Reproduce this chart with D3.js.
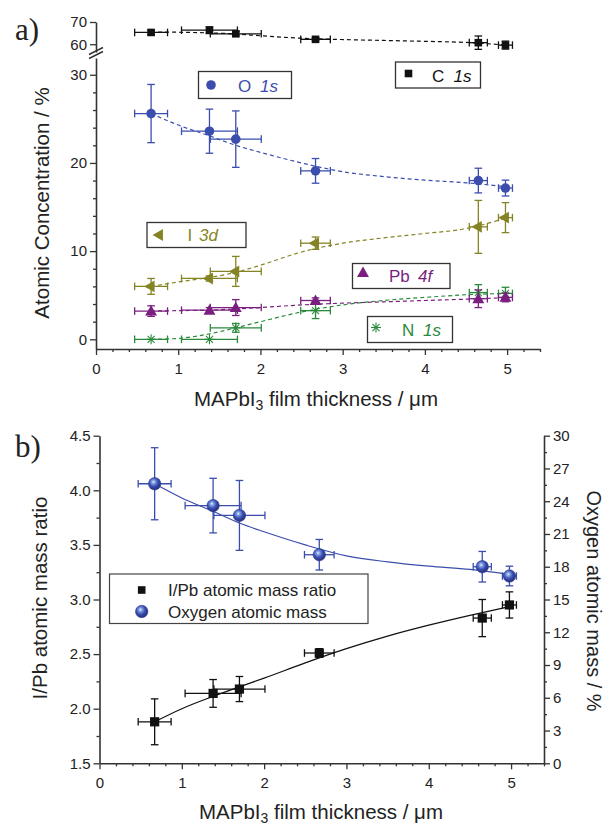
<!DOCTYPE html>
<html>
<head>
<meta charset="utf-8">
<script src="https://cdn.jsdelivr.net/npm/d3@7"></script>
<style>
  body { margin: 0; background: #fff; }
  svg { display: block; }
  text { font-family: "Liberation Sans", Arial, sans-serif; fill: #222; }
</style>
</head>
<body>
<svg id="chart" width="606" height="828"></svg>
<script>
// ---- data: film thickness (µm) and its uncertainty ----
const thickness    = [0.67, 1.38, 1.70, 2.67, 4.65, 4.98];
const thicknessErr = [0.20, 0.34, 0.31, 0.18, 0.11, 0.085];

// atomic concentrations (%) with errors
const carbon      = [65.3, 66.3, 64.7, 62.2, 60.7, 59.6];
const carbonErr   = [1.0, 1.5, 1.0, 0.7, 3.0, 1.8];
const oxygen      = [25.6, 23.6, 22.7, 19.1, 18.0, 17.15];
const oxygenErr   = [3.3, 2.5, 3.2, 1.4, 1.4, 0.9];
const iodine      = [6.0, 6.9, 7.7, 10.9, 12.75, 13.8];
const iodineErr   = [0.9, 0.3, 1.7, 0.7, 3.0, 1.7];
const lead        = [3.2, 3.3, 3.6, 4.4, 4.6, 4.75];
const leadErr     = [0.6, 0.3, 0.9, 0.3, 1.0, 0.5];
const nitrogen    = [0.0, 0.0, 1.3, 3.25, 5.3, 5.2];
const nitrogenErr = [0.0, 0.0, 0.5, 0.9, 0.9, 0.7];

// I/Pb atomic mass ratio
const ratio    = [1.88, 2.14, 2.18, 2.51, 2.83, 2.95];
const ratioErr = [0.21, 0.127, 0.115, 0.04, 0.17, 0.12];

// fitted trend curves sampled along the thickness axis
const fitX        = [0.67, 1.0, 1.37, 1.7, 2.0, 2.5, 3.0, 3.5, 4.0, 4.5, 4.98];
const carbonFit   = [65.5, 65.4, 65.1, 64.6, 63.8, 62.7, 62.1, 61.7, 61.3, 60.8, 59.6];
const oxygenFit   = [25.6, 24.3, 23.1, 22.0, 21.2, 20.0, 19.0, 18.45, 18.05, 17.75, 17.3];
const iodineFit   = [6.0, 6.5, 7.0, 7.6, 8.4, 9.9, 10.9, 11.5, 12.0, 12.55, 13.75];
const leadFit     = [3.2, 3.25, 3.3, 3.45, 3.6, 3.9, 4.1, 4.25, 4.4, 4.55, 4.72];
const nitrogenFit = [0.0, 0.1, 0.6, 1.3, 2.0, 3.1, 3.9, 4.4, 4.75, 5.05, 5.2];
const ratioFit    = [1.88, 2.0, 2.11, 2.2, 2.28, 2.42, 2.55, 2.665, 2.765, 2.855, 2.935];

// axis ticks
const xTicks      = [0, 1, 2, 3, 4, 5];
const yLowTicks   = [0, 10, 20, 30];
const yUpTicks    = [60, 70];
const yRatioTicks = [1.5, 2.0, 2.5, 3.0, 3.5, 4.0, 4.5];
const yOxTicks    = [0, 3, 6, 9, 12, 15, 18, 21, 24, 27, 30];

// ---- colours ----
const BLUE = "#3b4ead", OLIVE = "#858424", PURPLE = "#7a1f80", GREEN = "#2a8a3c", BLACK = "#111";
const AXIS = "#333";

const svg = d3.select("#chart");
const defs = svg.append("defs");
const grad = defs.append("radialGradient").attr("id", "sphere")
  .attr("cx", "42%").attr("cy", "38%").attr("r", "60%").attr("fx", "40%").attr("fy", "35%");
grad.append("stop").attr("offset", "0%").attr("stop-color", "#d8f2ff");
grad.append("stop").attr("offset", "25%").attr("stop-color", "#7d9be0");
grad.append("stop").attr("offset", "60%").attr("stop-color", "#3a4db0");
grad.append("stop").attr("offset", "100%").attr("stop-color", "#26307c");

// ---- scales ----
const xA    = d3.scaleLinear().domain([0, 5.4]).range([96, 540]);
const yLow  = d3.scaleLinear().domain([-1.1, 31.9]).range([349, 58]);
const yUp   = d3.scaleLinear().domain([56.5, 70]).range([52, 22]);
const xB    = d3.scaleLinear().domain([0, 5.4]).range([99.5, 544]);
const yB    = d3.scaleLinear().domain([1.5, 4.5]).range([763.3, 435.7]);
const yBR   = d3.scaleLinear().domain([0, 30]).range([763.3, 435.7]);

// ---- helpers ----
function styleAxis(g) {
  g.selectAll(".domain").attr("stroke", AXIS).attr("stroke-width", 1.6);
  g.selectAll(".tick line").attr("stroke", AXIS).attr("stroke-width", 1.3);
  g.selectAll(".tick text").attr("font-size", 15).attr("fill", "#222")
    .attr("font-family", "'Liberation Sans', Arial, sans-serif");
}
function minorRange(a, b, step, majors) {
  const out = [];
  for (let v = a; v <= b + 1e-9; v += step) {
    const r = Math.round(v * 1000) / 1000;
    if (!majors.some(m => Math.abs(m - r) < 1e-6)) out.push(r);
  }
  return out;
}
// makeAxis: () => new axis generator bound to a scale
function drawAxis(makeAxis, transform, majors, minors, fmt) {
  const gm = svg.append("g").attr("transform", transform)
    .call(makeAxis().tickValues(minors).tickSize(3).tickFormat(""));
  gm.select(".domain").remove();
  styleAxis(gm);
  const g = svg.append("g").attr("transform", transform)
    .call(makeAxis().tickValues(majors).tickSizeOuter(0).tickFormat(fmt));
  styleAxis(g);
  return g;
}

function marker(g, type, x, y, color) {
  if (type === "square") {
    g.append("rect").attr("x", x - 3.8).attr("y", y - 3.8).attr("width", 7.6).attr("height", 7.6).attr("fill", color);
  } else if (type === "bigsquare") {
    g.append("rect").attr("x", x - 4.6).attr("y", y - 4.6).attr("width", 9.2).attr("height", 9.2).attr("fill", color);
  } else if (type === "circle") {
    g.append("circle").attr("cx", x).attr("cy", y).attr("r", 4.8).attr("fill", color);
  } else if (type === "triLeft") {
    g.append("path").attr("d", d3.symbol(d3.symbolTriangle, 62)())
      .attr("transform", `translate(${x},${y}) rotate(-90)`).attr("fill", color);
  } else if (type === "triUp") {
    g.append("path").attr("d", d3.symbol(d3.symbolTriangle, 62)())
      .attr("transform", `translate(${x},${y + 1})`).attr("fill", color);
  } else if (type === "star") {
    const r = 5;
    [0, 45, 90, 135].forEach(a => {
      const c = Math.cos(a * Math.PI / 180) * r, s = Math.sin(a * Math.PI / 180) * r;
      g.append("line").attr("x1", x - c).attr("y1", y - s).attr("x2", x + c).attr("y2", y + s)
        .attr("stroke", color).attr("stroke-width", 1.1);
    });
  } else if (type === "sphere") {
    g.append("circle").attr("cx", x).attr("cy", y).attr("r", 6.2)
      .attr("fill", "url(#sphere)").attr("stroke", "#2c3a90").attr("stroke-width", 0.6);
  }
}

function errorBars(g, xs, ys, xe, ye, xs_, ys_, color) {
  const cap = 3.8;
  xs.forEach((xv, i) => {
    const cx = xs_(xv), cy = ys_(ys[i]);
    const x0 = xs_(xv - xe[i]), x1 = xs_(xv + xe[i]);
    g.append("line").attr("x1", x0).attr("x2", x1).attr("y1", cy).attr("y2", cy)
      .attr("stroke", color).attr("stroke-width", 1.3);
    [x0, x1].forEach(xx => g.append("line").attr("x1", xx).attr("x2", xx)
      .attr("y1", cy - cap).attr("y2", cy + cap).attr("stroke", color).attr("stroke-width", 1.3));
    if (ye[i] > 0) {
      const y0 = ys_(ys[i] - ye[i]), y1 = ys_(ys[i] + ye[i]);
      g.append("line").attr("x1", cx).attr("x2", cx).attr("y1", y0).attr("y2", y1)
        .attr("stroke", color).attr("stroke-width", 1.3);
      [y0, y1].forEach(yy => g.append("line").attr("x1", cx - cap).attr("x2", cx + cap)
        .attr("y1", yy).attr("y2", yy).attr("stroke", color).attr("stroke-width", 1.3));
    }
  });
}

function fitLine(g, vals, xs_, ys_, color, dashed) {
  const pts = fitX.map((x, i) => [x, vals[i]]);
  g.append("path").datum(pts)
    .attr("d", d3.line().x(d => xs_(d[0])).y(d => ys_(d[1])).curve(d3.curveMonotoneX))
    .attr("fill", "none").attr("stroke", color).attr("stroke-width", 1.2)
    .attr("stroke-dasharray", dashed ? "4,3" : null);
}

// =================== panel a ===================
const xMinor = minorRange(0, 5.4, 0.2, xTicks);
drawAxis(() => d3.axisBottom(xA), "translate(0,349)", xTicks, xMinor, d3.format("d"))
  .selectAll(".tick text").attr("dy", "1.05em");
drawAxis(() => d3.axisLeft(yLow), "translate(96,0)", yLowTicks, minorRange(0, 30, 2, yLowTicks), d3.format("d"));
drawAxis(() => d3.axisLeft(yUp), "translate(96,0)", yUpTicks, [], d3.format("d"));

// axis break marks
[[0, 0], [0, -4]].forEach(([dx, dy]) => {
  svg.append("line").attr("x1", 89 + dx).attr("y1", 58.5 + dy).attr("x2", 103 + dx).attr("y2", 51.5 + dy)
    .attr("stroke", AXIS).attr("stroke-width", 1.4);
});

const seriesA = [
  { vals: carbon,   err: carbonErr,   fit: carbonFit,   color: BLACK,  mark: "square",  y: yUp },
  { vals: oxygen,   err: oxygenErr,   fit: oxygenFit,   color: BLUE,   mark: "circle",  y: yLow },
  { vals: iodine,   err: iodineErr,   fit: iodineFit,   color: OLIVE,  mark: "triLeft", y: yLow },
  { vals: nitrogen, err: nitrogenErr, fit: nitrogenFit, color: GREEN,  mark: "star",    y: yLow },
  { vals: lead,     err: leadErr,     fit: leadFit,     color: PURPLE, mark: "triUp",   y: yLow }
];
const gA = svg.append("g");
seriesA.forEach(s => fitLine(gA, s.fit, xA, s.y, s.color, true));
seriesA.forEach(s => {
  errorBars(gA, thickness, s.vals, thicknessErr, s.err, xA, s.y, s.color);
  thickness.forEach((t, i) => marker(gA, s.mark, xA(t), s.y(s.vals[i]), s.color));
});

// legends of panel a
const legendsA = [
  { box: [198.5, 71.5, 93, 27], mark: "circle",  mx: 211,   my: 85,    color: BLUE,   a: "O",  ax: 238,   b: "1s", bx: 260,   base: 91.5 },
  { box: [395.5, 62,   85, 26], mark: "square",  mx: 408.5, my: 73.5,  color: BLACK,  a: "C",  ax: 432,   b: "1s", bx: 453.5, base: 81.5 },
  { box: [147,  222.5, 99, 25], mark: "triLeft", mx: 159.5, my: 235,   color: OLIVE,  a: "I",  ax: 187.5, b: "3d", bx: 199,   base: 241 },
  { box: [352.5,263.5, 97.5, 25], mark: "triUp", mx: 363,   my: 272.5, color: PURPLE, a: "Pb", ax: 389,   b: "4f", bx: 418,   base: 282 },
  { box: [367.5,316.5, 85, 26], mark: "star",    mx: 376,   my: 327.5, color: GREEN,  a: "N",  ax: 402,   b: "1s", bx: 423,   base: 335.5 }
];
legendsA.forEach(l => {
  const g = svg.append("g");
  g.append("rect").attr("x", l.box[0]).attr("y", l.box[1]).attr("width", l.box[2]).attr("height", l.box[3])
    .attr("fill", "#fff").attr("stroke", "#333").attr("stroke-width", 1.3);
  marker(g, l.mark, l.mx, l.my, l.color);
  g.append("text").attr("x", l.ax).attr("y", l.base).attr("font-size", 17).style("fill", l.color).text(l.a);
  g.append("text").attr("x", l.bx).attr("y", l.base).attr("font-size", 17).attr("font-style", "italic")
    .style("fill", l.color).text(l.b);
});

// titles of panel a
svg.append("text").attr("x", 15).attr("y", 40).attr("font-size", 31)
  .style("font-family", "'Liberation Serif', 'Times New Roman', serif").text("a)");
svg.append("text").attr("transform", "translate(49,203) rotate(-90)").attr("text-anchor", "middle")
  .attr("font-size", 20.5).text("Atomic Concentration / %");
function xTitle(x, y) {
  const t = svg.append("text").attr("x", x).attr("y", y).attr("text-anchor", "middle").attr("font-size", 20.5);
  t.append("tspan").text("MAPbI");
  t.append("tspan").attr("dy", 4).attr("font-size", 14).text("3");
  t.append("tspan").attr("dy", -4).text(" film thickness / μm");
}
xTitle(316, 406);

// =================== panel b ===================
drawAxis(() => d3.axisBottom(xB), "translate(0,763.3)", xTicks, xMinor, d3.format("d"))
  .selectAll(".tick text").attr("dy", "1.05em");
drawAxis(() => d3.axisLeft(yB), "translate(99.5,0)", yRatioTicks, minorRange(1.5, 4.5, 0.25, yRatioTicks), d3.format(".1f"));
drawAxis(() => d3.axisRight(yBR), "translate(544,0)", yOxTicks, minorRange(0, 30, 1.5, yOxTicks), d3.format("d"));

const gB = svg.append("g");
fitLine(gB, oxygenFit, xB, yBR, BLUE, false);
fitLine(gB, ratioFit, xB, yB, BLACK, false);
errorBars(gB, thickness, oxygen, thicknessErr, oxygenErr, xB, yBR, BLUE);
errorBars(gB, thickness, ratio, thicknessErr, ratioErr, xB, yB, BLACK);
thickness.forEach((t, i) => marker(gB, "sphere", xB(t), yBR(oxygen[i]), BLUE));
thickness.forEach((t, i) => marker(gB, "bigsquare", xB(t), yB(ratio[i]), BLACK));

// legend of panel b
const lgB = svg.append("g");
lgB.append("rect").attr("x", 109.5).attr("y", 574).attr("width", 258.5).attr("height", 49.5)
  .attr("fill", "#fff").attr("stroke", "#444").attr("stroke-width", 1.2);
marker(lgB, "square", 141.7, 590, BLACK);
marker(lgB, "sphere", 141.7, 611.5, BLUE);
lgB.append("text").attr("x", 168).attr("y", 596).attr("font-size", 17).text("I/Pb atomic mass ratio");
lgB.append("text").attr("x", 168).attr("y", 617.5).attr("font-size", 17).text("Oxygen atomic mass");

svg.append("text").attr("x", 15).attr("y", 457).attr("font-size", 31)
  .style("font-family", "'Liberation Serif', 'Times New Roman', serif").text("b)");
svg.append("text").attr("transform", "translate(47,598) rotate(-90)").attr("text-anchor", "middle")
  .attr("font-size", 20.5).text("I/Pb atomic mass ratio");
svg.append("text").attr("transform", "translate(587,601) rotate(90)").attr("text-anchor", "middle")
  .attr("font-size", 20).text("Oxygen atomic mass / %");
xTitle(321, 819);
</script>
</body>
</html>
